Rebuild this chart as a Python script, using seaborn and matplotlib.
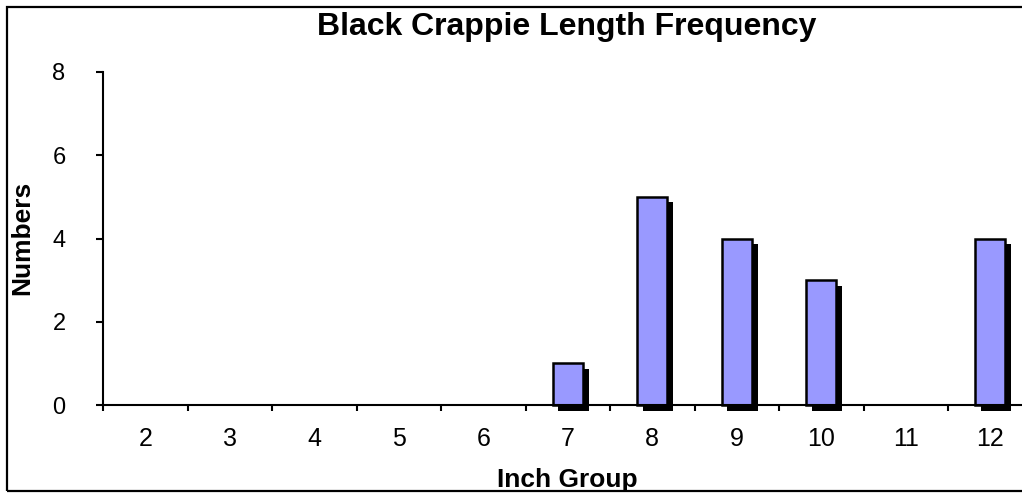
import matplotlib
matplotlib.use("Agg")
import matplotlib.pyplot as plt
import matplotlib.patheffects as pe
from matplotlib.patches import Rectangle
import seaborn as sns
import pandas as pd

categories = ["2", "3", "4", "5", "6", "7", "8", "9", "10", "11", "12"]
counts = [0, 0, 0, 0, 0, 1, 5, 4, 3, 0, 4]
y_ticks = [0, 2, 4, 6, 8]

sns.set_theme(style="white")
plt.rcParams['font.family'] = ['Liberation Sans', 'DejaVu Sans']
plt.rcParams['text.color'] = 'black'
plt.rcParams['xtick.color'] = 'black'
plt.rcParams['ytick.color'] = 'black'

df = pd.DataFrame({"Inch Group": categories, "Numbers": counts})

fig = plt.figure(figsize=(10.22, 4.93), dpi=100)
ax = fig.add_axes([103/1022, 1-405/493, 929.5/1022, (405-72)/493])

sns.barplot(data=df, x="Inch Group", y="Numbers", order=categories,
            color="#9999FF", saturation=1, width=0.36,
            edgecolor="black", linewidth=1.8, ax=ax)

for p in ax.patches:
    if p.get_height() > 0:
        p.set_clip_on(False)
        p.set_path_effects([pe.SimplePatchShadow(offset=(4, -4), shadow_rgbFace="black", alpha=1.0),
                            pe.Normal()])
    else:
        p.set_linewidth(0)

ax.set_xlim(-0.5, len(categories) - 0.5)
ax.set_ylim(0, 8)
ax.set_yticks(y_ticks)
ax.set_yticklabels([str(v) for v in y_ticks], fontsize=17)
ax.set_xticks(range(len(categories)))
ax.set_xticklabels(categories, fontsize=18)
ax.set_xticks([i - 0.5 for i in range(len(categories) + 1)], minor=True)
ax.tick_params(axis="x", which="major", length=0, pad=16)
ax.tick_params(axis="x", which="minor", length=4.5, width=1.5, color="black", bottom=True, direction="out")
ax.tick_params(axis="y", which="major", length=5, width=1.5, color="black", left=True, direction="out", pad=22)

for s in ["top", "right"]:
    ax.spines[s].set_visible(False)
for s in ["left", "bottom"]:
    ax.spines[s].set_color("black")
    ax.spines[s].set_linewidth(1.5)
    ax.spines[s].set_zorder(5)

ax.set_xlabel("")
ax.set_ylabel("")
fig.text(567/1022, 1-27/493, "Black Crappie Length Frequency", ha="center", va="center",
         fontsize=23, fontweight="bold")
fig.text(567/1022, 1-480/493, "Inch Group", ha="center", va="center",
         fontsize=19, fontweight="bold")
fig.text(22/1022, 1-238/493, "Numbers", ha="center", va="center", rotation=90,
         fontsize=19, fontweight="bold")

fig.patches.append(Rectangle((7/1022, 2.5/493), 1.2, 1-9/493, transform=fig.transFigure,
                             fill=False, edgecolor="black", linewidth=1.6, zorder=10))

fig.savefig("out.png", dpi=100)
